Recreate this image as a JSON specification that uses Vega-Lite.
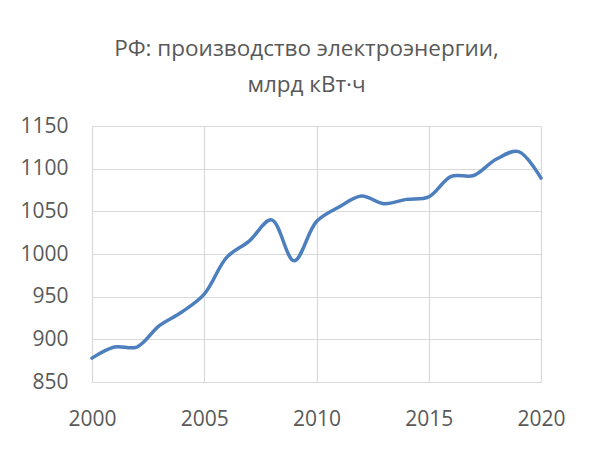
{
  "$schema": "https://vega.github.io/schema/vega-lite/v6.json",
  "width": 449,
  "height": 256,
  "autosize": {"type": "none"},
  "padding": {"left": 92, "top": 126, "right": 58, "bottom": 74},
  "background": "white",
  "title": {
    "text": ["РФ: производство электроэнергии,", "млрд кВт·ч"],
    "font": "Open Sans",
    "fontSize": 22.5,
    "fontWeight": "normal",
    "color": "#595959",
    "anchor": "middle",
    "lineHeight": 36,
    "offset": 19,
    "dx": -10
  },
  "config": {"view": {"stroke": null}},
  "data": {
    "values": [
      {"year": 2000, "value": 878},
      {"year": 2001, "value": 891},
      {"year": 2002, "value": 891},
      {"year": 2003, "value": 916},
      {"year": 2004, "value": 932},
      {"year": 2005, "value": 953},
      {"year": 2006, "value": 996},
      {"year": 2007, "value": 1015},
      {"year": 2008, "value": 1040},
      {"year": 2009, "value": 992},
      {"year": 2010, "value": 1038},
      {"year": 2011, "value": 1055},
      {"year": 2012, "value": 1068},
      {"year": 2013, "value": 1059},
      {"year": 2014, "value": 1064},
      {"year": 2015, "value": 1067},
      {"year": 2016, "value": 1091},
      {"year": 2017, "value": 1092},
      {"year": 2018, "value": 1111},
      {"year": 2019, "value": 1120},
      {"year": 2020, "value": 1089}
    ]
  },
  "mark": {
    "type": "line",
    "interpolate": "catmull-rom",
    "color": "#4D7FBE",
    "strokeWidth": 3.5,
    "strokeCap": "round",
    "strokeJoin": "round"
  },
  "encoding": {
    "x": {
      "field": "year",
      "type": "quantitative",
      "scale": {"domain": [2000, 2020], "nice": false, "zero": false},
      "axis": {
        "title": null,
        "values": [2000, 2005, 2010, 2015, 2020],
        "format": "d",
        "grid": true,
        "gridColor": "#d9d9d9",
        "gridWidth": 1.2,
        "domain": false,
        "ticks": false,
        "labelFont": "Open Sans",
        "labelFontSize": 21,
        "labelColor": "#595959",
        "labelPadding": 26,
        "labelFlush": false
      }
    },
    "y": {
      "field": "value",
      "type": "quantitative",
      "scale": {"domain": [850, 1150], "nice": false, "zero": false},
      "axis": {
        "title": null,
        "values": [850, 900, 950, 1000, 1050, 1100, 1150],
        "format": "d",
        "grid": true,
        "gridColor": "#d9d9d9",
        "gridWidth": 1.2,
        "domain": false,
        "ticks": false,
        "labelFont": "Open Sans",
        "labelFontSize": 21,
        "labelColor": "#595959",
        "labelPadding": 24,
        "labelFlush": false
      }
    }
  }
}
